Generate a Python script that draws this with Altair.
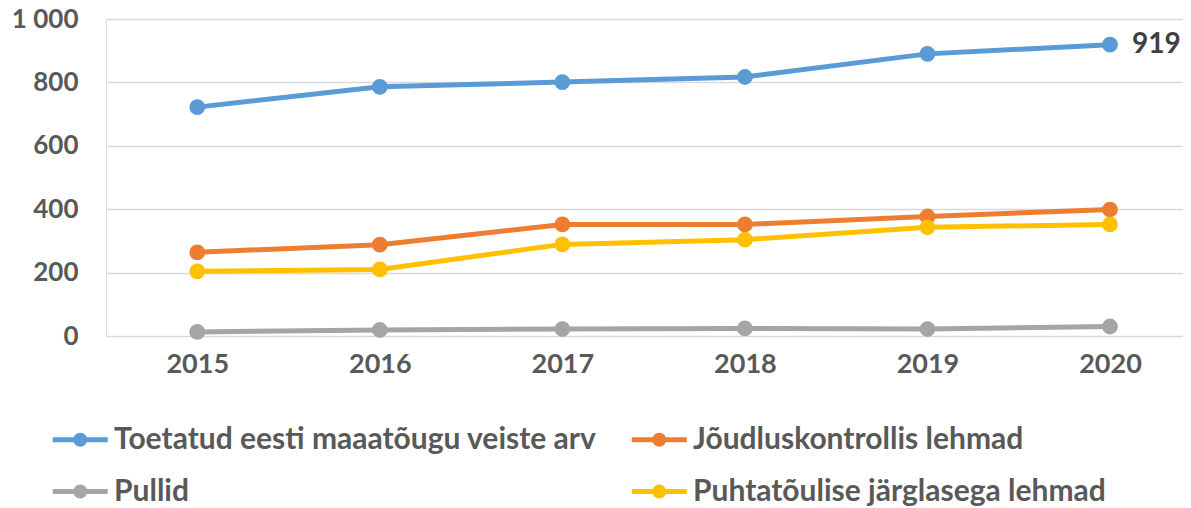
import altair as alt
import pandas as pd

years = [2015, 2016, 2017, 2018, 2019, 2020]
series_names = [
    "Toetatud eesti maaatõugu veiste arv",
    "Jõudluskontrollis lehmad",
    "Pullid",
    "Puhtatõulise järglasega lehmad",
]
toetatud = [722, 786, 801, 817, 890, 919]
joudlus = [264, 288, 352, 352, 377, 399]
pullid = [13, 19, 22, 24, 22, 30]
puhtat = [204, 210, 289, 304, 343, 352]
colors = ["#5B9BD5", "#ED7D31", "#A5A5A5", "#FFC000"]
y_ticks = [0, 200, 400, 600, 800, 1000]

rows = []
for name, vals in zip(series_names, [toetatud, joudlus, pullid, puhtat]):
    for yr, v in zip(years, vals):
        rows.append({"year": yr, "series": name, "value": v})
df = pd.DataFrame(rows)

FONT = "Lato"
GRAY = "#595959"

color_scale = alt.Scale(domain=series_names, range=colors)

# legend symbol: line with a dot, drawn to the right of the nominal symbol box
sym = "M-1,0L3,0M0.67,0A0.33,0.33,0,1,0,1.33,0A0.33,0.33,0,1,0,0.67,0Z"
legend = alt.Legend(title=None, orient="none", legendX=-56, legendY=404,
                    columns=2, direction="horizontal",
                    symbolType=sym, symbolSize=756, symbolStrokeWidth=5,
                    labelFont=FONT, labelFontSize=30, labelFontWeight="bold",
                    labelColor=GRAY, labelOffset=31, columnPadding=24,
                    rowPadding=20, labelLimit=700)

x = alt.X("year:Q", scale=alt.Scale(domain=[2014.5, 2020.4], nice=False, zero=False),
          axis=alt.Axis(values=years, format="d", title=None, grid=False, domain=False,
                        ticks=False, labelFont=FONT, labelFontSize=27, labelFontWeight="bold",
                        labelColor=GRAY, labelPadding=28, labelBaseline="middle"))
y = alt.Y("value:Q", scale=alt.Scale(domain=[0, 1000], nice=False),
          axis=alt.Axis(values=y_ticks, title=None, domain=False, ticks=False,
                        labelExpr="replace(format(datum.value, ','), ',', ' ')",
                        labelFont=FONT, labelFontSize=26, labelFontWeight="bold",
                        labelColor=GRAY, labelPadding=28, gridColor="#D9D9D9",
                        gridWidth=1.5))

lines = alt.Chart(df).mark_line(strokeWidth=5, strokeCap="round").encode(
    x=x, y=y,
    stroke=alt.Stroke("series:N", scale=color_scale, legend=legend),
    detail="series:N",
)

points = alt.Chart(df).mark_point(filled=True, size=190, opacity=1).encode(
    x=x, y=y,
    fill=alt.Fill("series:N", scale=color_scale, legend=legend),
    stroke=alt.Stroke("series:N", scale=color_scale, legend=legend),
)

label = alt.Chart(df).transform_filter(
    (alt.datum.year == 2020) & (alt.datum.series == series_names[0])
).mark_text(align="left", baseline="middle", dx=22, font=FONT, fontSize=28,
            fontWeight="bold", color="#404040").encode(
    x=x, y=y, text=alt.Text("value:Q", format="d"))

chart = alt.layer(lines, points, label).properties(
    width=1077, height=317,
    autosize=alt.AutoSizeParams(type="none"),
    padding={"left": 98, "top": 11, "right": 0, "bottom": 172},
).configure_view(stroke=None).configure(background="white")

chart.save("out.html", embed_options={"renderer": "svg", "actions": False})
